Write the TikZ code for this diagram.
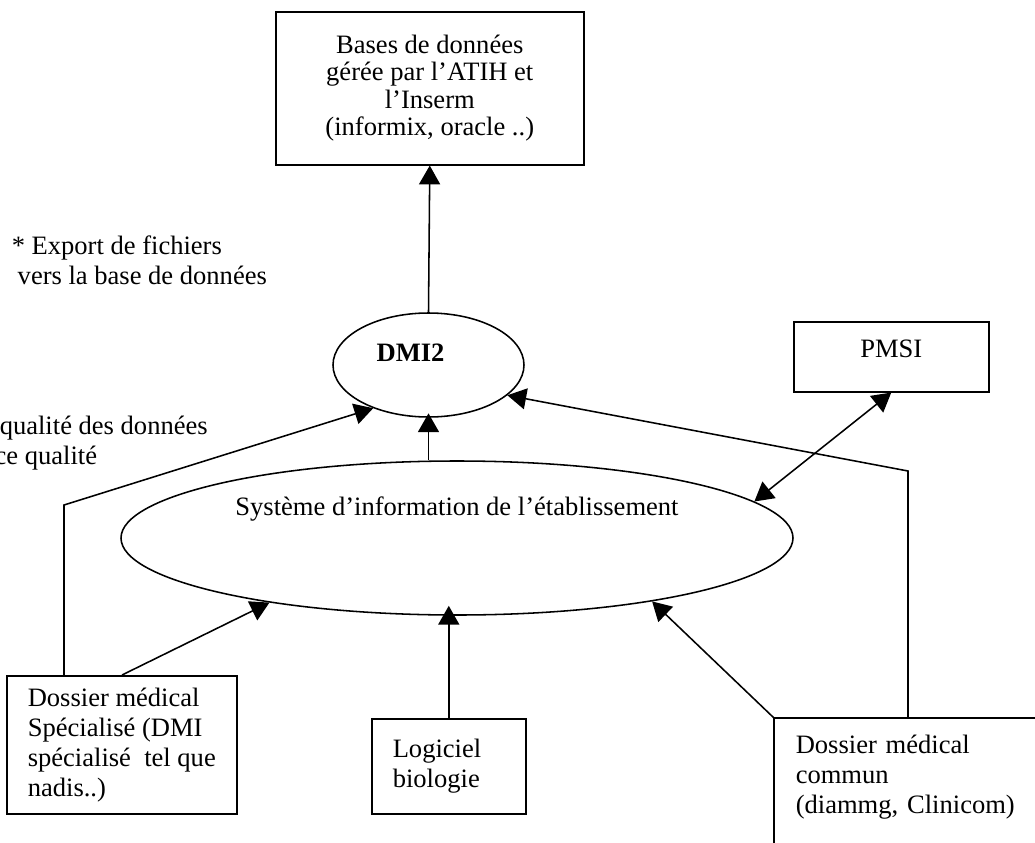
\documentclass[tikz,border=0pt]{standalone}
\usepackage{fontspec}
\setmainfont{Liberation Serif}
\usetikzlibrary{arrows.meta,shapes.geometric,calc}

\tikzset{
  boite/.style={draw, rectangle, anchor=north west, inner xsep=21*0.452pt, inner ysep=0pt, align=left},
  bulle/.style={draw, ellipse, inner sep=0pt},
  fleche/.style={-{Triangle[length=8.5pt,width=9.5pt]}},
  double fleche/.style={{Triangle[length=8.5pt,width=9.5pt]}-{Triangle[length=8.5pt,width=9.5pt]}}
}

\begin{document}
\fontsize{12}{13.6}\selectfont
\begin{tikzpicture}[x=0.452pt,y=-0.452pt,line width=0.7pt]
\useasboundingbox (0,0) rectangle (1035,843);

% boites et bulles
\node[boite, align=center, minimum width=308*0.452pt, minimum height=153*0.452pt, font=\fontsize{12}{12.4}\selectfont] (bdd) at (275,11) {Bases de données\\gérée par l’ATIH et\\l’Inserm\\(informix, oracle ..)};
\node[bulle, minimum width=191*0.452pt, minimum height=104*0.452pt, label={[font=\bfseries, xshift=-18*0.452pt, yshift=12*0.452pt]center:DMI2}] (dmi) at (428.5,365) {};
\node[boite, align=center, minimum width=195*0.452pt, minimum height=70*0.452pt, text depth=7pt] (pmsi) at (793,321) {PMSI};
\node[bulle, minimum width=672*0.452pt, minimum height=154*0.452pt, label={[yshift=29*0.452pt]center:Système d’information de l’établissement}] (si) at (457,538) {};
\node[boite, minimum width=230*0.452pt, minimum height=138*0.452pt] (dsp) at (6,675) {Dossier médical\\Spécialisé (DMI\\spécialisé\ \ tel que\\nadis..)};
\node[boite, text width=112*0.452pt, minimum width=154*0.452pt, minimum height=95*0.452pt] (log) at (371,718) {Logiciel\\biologie};
\node[boite, draw=none, text width=230*0.452pt, minimum height=116*0.452pt] (com) at (774,718) {Dossier médical\\commun\\(diammg, Clinicom)};
\draw ($(com.south west)+(0,20)$) -- (com.north west) -- (com.north east);

% textes libres
\node[anchor=west, align=left, inner sep=0pt] (export) at (11,260) {* Export de fichiers\\\hspace*{2.7pt}vers la base de données};
\node[anchor=west, align=left, inner sep=0pt] (qualite) at (-1,443) {qualité des données\\\hspace*{-2.3pt}ce qualité};

% fleches
\coordinate (coudeG) at (64,505);
\coordinate (coudeD) at (908,471);
\draw[fleche] (dmi.north) -- (bdd.south);
\draw[fleche, shorten >=-2pt] (si.north -| dmi.south) -- (dmi.south);
\draw[double fleche] (pmsi.south) -- (si.7);
\draw[fleche] (dsp.north -| coudeG) -- (coudeG) -- (dmi.218);
\draw[fleche] (com.north -| coudeD) -- (coudeD) -- (dmi.339);
\draw[fleche] ($(dsp.north west)+(116,0)$) -- (si.199);
\draw[fleche, shorten >=-4.5pt] (log.north) -- (log.north |- si.south);
\draw[fleche] (com.north west) -- (si.342);
\end{tikzpicture}
\end{document}
